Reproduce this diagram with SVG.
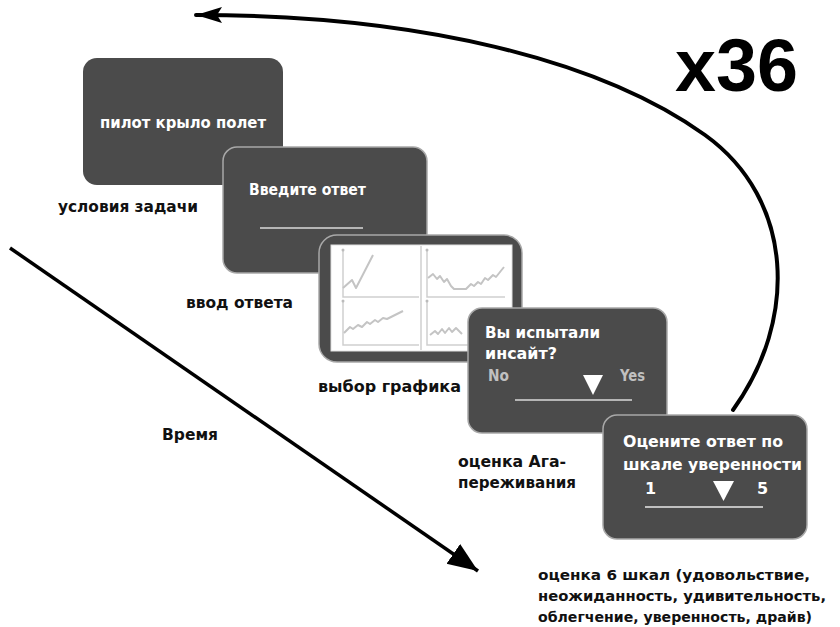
<svg xmlns="http://www.w3.org/2000/svg" width="840" height="627" viewBox="0 0 840 627">
<defs>
<style>
.box{fill:#4b4b4b;}
.edge{stroke:#a8a8a8;stroke-width:1.5;}
.lbl{font-family:"DejaVu Sans","Liberation Sans",sans-serif;font-weight:bold;font-size:16px;fill:#111;}
.sm{font-size:14px;}
.wt{font-family:"DejaVu Sans","Liberation Sans",sans-serif;font-weight:bold;font-size:16px;fill:#fff;}
.gt{font-family:"DejaVu Sans","Liberation Sans",sans-serif;font-weight:bold;font-size:15px;fill:#c0c0c0;}
.ax{stroke:#cfcfcf;stroke-width:1.5;fill:none;}
.pl{stroke:#c4c4c4;stroke-width:2;fill:none;stroke-linejoin:round;}
.conn{stroke:#000;fill:none;}
</style>
<marker id="ah" markerUnits="userSpaceOnUse" markerWidth="34" markerHeight="26" refX="30" refY="12" orient="auto">
<path d="M0,0 L30,12 L0,24 Z" fill="#000"/>
</marker>
<marker id="ah2" markerUnits="userSpaceOnUse" markerWidth="30" markerHeight="18" refX="26" refY="8" orient="auto">
<path d="M0,0 L26,8 L0,16 L5,8 Z" fill="#000"/>
</marker>
</defs>
<rect width="840" height="627" fill="#fff"/>

<g id="connectors">
<path class="conn" d="M10,248 L478,571" stroke-width="3.5" marker-end="url(#ah)"/>
<path class="conn" d="M733,410 C798,320 795,200 705,135 C600,60 420,15 196,15" stroke-width="4" stroke-linecap="round" marker-end="url(#ah2)"/>
</g>

<g id="repeat">
<text x="675" y="91" font-family="Liberation Sans, Arial, sans-serif" font-weight="bold" font-size="75" textLength="123" lengthAdjust="spacingAndGlyphs" fill="#000">x36</text>
</g>

<g id="time-label">
<text class="lbl" x="162" y="440" textLength="56" lengthAdjust="spacingAndGlyphs">Время</text>
</g>

<g id="node-task">
<rect class="box" x="83" y="58" width="200" height="127" rx="14"/>
<text class="wt" x="100" y="128" font-size="15" textLength="166" lengthAdjust="spacingAndGlyphs">пилот крыло полет</text>
<text class="lbl" x="58" y="212" textLength="140" lengthAdjust="spacingAndGlyphs">условия задачи</text>
</g>

<g id="node-answer">
<rect class="box edge" x="223" y="147" width="204" height="126" rx="14"/>
<text class="wt" x="249" y="195" textLength="117" lengthAdjust="spacingAndGlyphs">Введите ответ</text>
<line x1="260" y1="228" x2="363" y2="228" stroke="#b5b5b5" stroke-width="2"/>
<text class="lbl" x="186" y="308" textLength="107" lengthAdjust="spacingAndGlyphs">ввод ответа</text>
</g>

<g id="node-graph">
<rect class="box edge" x="319" y="235" width="203" height="127" rx="18"/>
<rect x="331" y="245" width="181" height="106" fill="#fff" stroke="#e0e0e0" stroke-width="1"/>
<path class="ax" d="M343,250 V297 H419 M427,250 V297 H505 M343,301 V345 H419 M427,301 V345 H505"/>
<path class="ax" d="M421,246 V350" stroke="#e6e6e6"/>
<circle cx="343" cy="250" r="1.5" fill="#bbb"/><circle cx="427" cy="250" r="1.5" fill="#bbb"/>
<circle cx="343" cy="301" r="1.5" fill="#bbb"/><circle cx="427" cy="301" r="1.5" fill="#bbb"/>
<path class="pl" d="M343,288 L352,280 L356,288 L373,255"/>
<path class="pl" d="M428,278 L433,274 L437,279 L440,276 L444,282 L447,279 L451,286 L454,289 L466,289 L471,284 L474,286 L478,282 L481,284 L485,278 L488,280 L493,275 L496,277 L504,267"/>
<path class="pl" d="M344,333 L350,327 L353,329 L358,325 L362,327 L367,322 L370,324 L375,320 L378,322 L383,318 L387,319 L403,311"/>
<path class="pl" d="M430,335 L435,331 L438,334 L442,329 L445,333 L449,328 L452,332 L456,328 L462,334"/>
<text class="lbl" x="318" y="392" textLength="143" lengthAdjust="spacingAndGlyphs">выбор графика</text>
</g>

<g id="node-aha">
<rect class="box edge" x="468" y="308" width="199" height="125" rx="14"/>
<text class="wt" x="485" y="338" textLength="115" lengthAdjust="spacingAndGlyphs">Вы испытали</text>
<text class="wt" x="485" y="359" textLength="72" lengthAdjust="spacingAndGlyphs">инсайт?</text>
<text class="gt" x="488" y="381" textLength="21" lengthAdjust="spacingAndGlyphs">No</text>
<text class="gt" x="620" y="381" textLength="25" lengthAdjust="spacingAndGlyphs">Yes</text>
<path d="M583,375 L603,375 L593,395 Z" fill="#fff"/>
<line x1="515" y1="400" x2="632" y2="400" stroke="#b5b5b5" stroke-width="2"/>
<text class="lbl" x="458" y="467" textLength="108" lengthAdjust="spacingAndGlyphs">оценка Ага-</text>
<text class="lbl" x="458" y="488" textLength="118" lengthAdjust="spacingAndGlyphs">переживания</text>
</g>

<g id="node-confidence">
<rect class="box edge" x="603" y="415" width="204" height="124" rx="14"/>
<text class="wt" x="623" y="447" textLength="160" lengthAdjust="spacingAndGlyphs">Оцените ответ по</text>
<text class="wt" x="623" y="470" textLength="179" lengthAdjust="spacingAndGlyphs">шкале уверенности</text>
<text class="wt" x="645" y="494">1</text>
<text class="wt" x="757" y="494">5</text>
<path d="M713,481 L734,481 L723.5,501 Z" fill="#fff"/>
<line x1="645" y1="507" x2="763" y2="507" stroke="#c0c0c0" stroke-width="2"/>
<text class="lbl sm" x="538" y="580" textLength="272" lengthAdjust="spacingAndGlyphs">оценка 6 шкал (удовольствие,</text>
<text class="lbl sm" x="538" y="601" textLength="288" lengthAdjust="spacingAndGlyphs">неожиданность, удивительность,</text>
<text class="lbl sm" x="538" y="622" textLength="274" lengthAdjust="spacingAndGlyphs">облегчение, уверенность, драйв)</text>
</g>
</svg>
